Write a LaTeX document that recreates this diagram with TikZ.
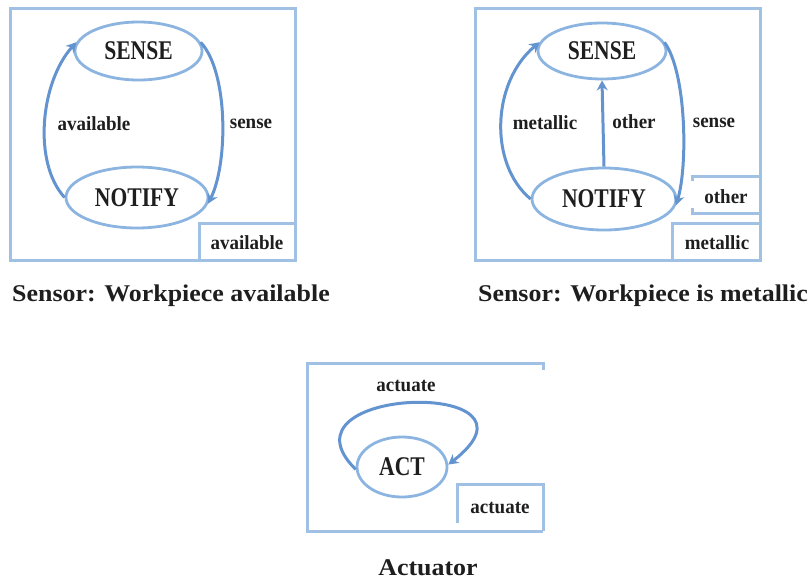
\documentclass[tikz,border=0pt]{standalone}
\usepackage{fontspec}
\setmainfont{Liberation Serif}
\newfontfamily\statefont[FakeStretch=0.8]{Liberation Serif}
\newfontfamily\tagfont[FakeStretch=0.95]{Liberation Serif}
\newfontfamily\capfont[FakeStretch=1.08]{Liberation Serif}
\usetikzlibrary{shapes.geometric,arrows.meta}

\definecolor{framecol}{RGB}{160,193,228}
\definecolor{ellcol}{RGB}{140,180,224}
\definecolor{arrcol}{RGB}{100,148,208}
\definecolor{ink}{RGB}{30,30,30}

\tikzset{
  frame/.style={draw=framecol, line width=3pt},
  state/.style={ellipse, draw=ellcol, line width=2.8pt, inner sep=0pt,
    text=ink, font=\statefont\bfseries\fontsize{27}{30}\selectfont},
  trans/.style={draw=arrcol, line width=3pt,
    -{Stealth[length=10pt,width=11pt]}},
  lbl/.style={text=ink, inner sep=0pt,
    font=\tagfont\bfseries\fontsize{20}{22}\selectfont},
  tagbox/.style={lbl, draw=framecol, line width=3pt},
  caption/.style={anchor=base, text=ink,
    font=\capfont\bfseries\fontsize{24}{26}\selectfont}
}

\begin{document}
\begin{tikzpicture}[x=1pt,y=-1pt]
\useasboundingbox (0,0) rectangle (811,581);

% ---------- Sensor: workpiece available ----------
\draw[frame] (10,8) rectangle (295,260);
\node[tagbox, minimum width=96pt, minimum height=37pt] (tagA) at (247,241.5) {};
\node[lbl] (tagAtxt) at (247,243) {available};

\node[state, minimum width=127pt, minimum height=58pt] (S1) at (138.5,51) {SENSE};
\node[state, minimum width=142pt, minimum height=61pt] (N1) at (137,197.5) {NOTIFY};

\draw[trans] (N1.180) .. controls +(-32,-35) and +(-36,40) .. (S1.172);
\draw[trans] (S1.8) .. controls +(28,30) and +(20,-40) .. (N1.355);
\node[lbl] (l1a) at (94,124) {available};
\node[lbl] (l1b) at (251,124) {sense};

\node[caption] (cap1) at (171,301) {Sensor: Workpiece available};

% ---------- Sensor: workpiece is metallic ----------
\draw[frame] (475,8) rectangle (760,260);
\draw[frame] (692,181) -- (692,176) -- (760,176) -- (760,213) -- (692,213) -- (692,208);
\node[lbl] (tagOtxt) at (726,197) {other};
\node[tagbox, minimum width=88pt, minimum height=37pt] (tagM) at (716,241.5) {};
\node[lbl] (tagMtxt) at (717,243) {metallic};

\node[state, minimum width=128pt, minimum height=56pt] (S2) at (602,51) {SENSE};
\node[state, minimum width=144pt, minimum height=62pt] (N2) at (604,199) {NOTIFY};

\draw[trans] (N2.180) .. controls +(-42,-35) and +(-48,40) .. (S2.172);
\draw[trans] (S2.8) .. controls +(22,30) and +(12,-40) .. (N2.355);
\draw[trans] (N2.north) -- (S2.south);
\node[lbl] (l2a) at (545,123) {metallic};
\node[lbl] (l2b) at (634,122) {other};
\node[lbl] (l2c) at (714,123) {sense};

\node[caption] (cap2) at (643,301) {Sensor: Workpiece is metallic};

% ---------- Actuator ----------
\draw[frame] (543,370) -- (543,363) -- (307,363) -- (307,531) -- (543,531);
\draw[frame] (457,523) -- (457,484) -- (543,484) -- (543,531);
\node[lbl] (tagCtxt) at (500,508) {actuate};

\node[state, minimum width=90pt, minimum height=60pt] (A) at (402,467) {ACT};
\draw[trans] (A.183) .. controls (270,385) and (560,378) .. (A.3);
\node[lbl] (l3) at (406,386) {actuate};

\node[caption] (cap3) at (428,575) {Actuator};
\end{tikzpicture}
\end{document}
